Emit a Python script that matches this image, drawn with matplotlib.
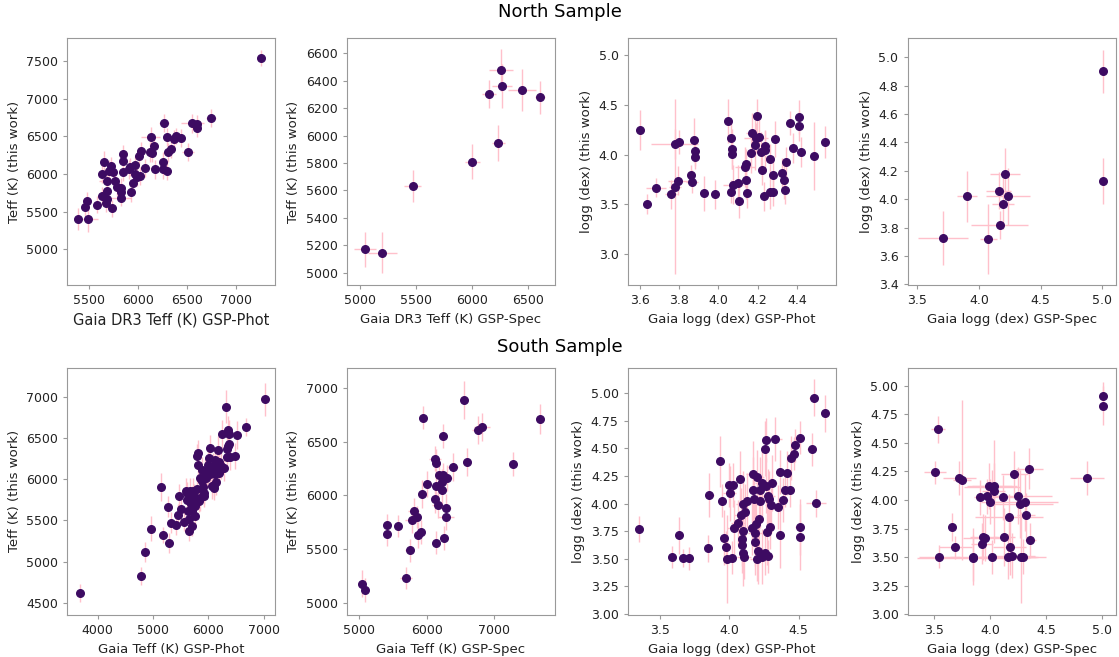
import numpy as np
import matplotlib
matplotlib.use("Agg")
import matplotlib.pyplot as plt

# North sample, Teff vs Gaia GSP-Phot
n_phot_teff_x = [7260, 6745, 6555, 6605, 6605, 6510, 6435, 6390, 6365, 6340, 6310, 6300, 6300, 6260, 6255, 6265,
                 6165, 6170, 6145, 6130, 6120, 6070, 6035, 6010, 6025, 5995, 5975, 5970, 5950, 5930, 5920, 5910,
                 5850, 5848, 5850, 5830, 5825, 5830, 5790, 5765, 5750, 5730, 5740, 5710, 5690, 5690, 5690, 5680,
                 5655, 5635, 5630, 5585, 5480, 5460, 5490, 5390]
n_phot_teff_y = [7535, 6745, 6670, 6660, 6605, 6295, 6480, 6505, 6465, 6330, 6285, 6485, 6045, 6060, 6155, 6670,
                 6370, 6060, 6275, 6495, 6295, 6075, 6310, 6240, 5975, 5965, 6000, 6120, 5885, 5755, 6090, 6060,
                 6260, 6175, 6030, 5820, 5765, 5685, 5830, 5910, 6030, 6105, 5545, 6045, 5905, 5775, 5665, 5610,
                 6155, 5995, 5710, 5595, 5640, 5565, 5405, 5405]
n_phot_teff_xerr = [40, 50, 120, 40, 40, 60, 40, 50, 40, 40, 40, 40, 40, 40, 40, 50, 40, 40, 40, 100, 40, 50, 40, 40,
                    50, 40, 40, 40, 40, 40, 40, 50, 40, 40, 40, 40, 40, 100, 40, 40, 40, 40, 40, 40, 90, 40, 40, 40,
                    40, 40, 40, 40, 40, 40, 100, 40]
n_phot_teff_yerr = [110, 120, 130, 120, 120, 120, 120, 110, 120, 120, 120, 120, 120, 120, 130, 120, 120, 120, 120,
                    130, 130, 120, 120, 120, 120, 120, 120, 120, 120, 130, 120, 120, 120, 120, 120, 130, 120, 110,
                    120, 120, 130, 120, 110, 140, 120, 120, 120, 110, 150, 120, 120, 110, 120, 120, 170, 150]

# North sample, Teff vs Gaia GSP-Spec
n_spec_teff_x = [6263, 6269, 6155, 6448, 6612, 6239, 6006, 5469, 5045, 5200]
n_spec_teff_y = [6478, 6362, 6303, 6332, 6279, 5948, 5810, 5634, 5170, 5146]
n_spec_teff_xerr = [105, 90, 60, 127, 45, 57, 66, 78, 96, 130]
n_spec_teff_yerr = [150, 160, 102, 155, 122, 130, 127, 117, 130, 148]

# North sample, logg vs Gaia GSP-Phot
n_phot_logg_x = [3.603, 3.640, 3.685, 3.761, 3.782, 3.778, 3.799, 3.795, 3.863, 3.867, 3.875, 3.880, 3.880, 3.926,
                 3.986, 4.050, 4.067, 4.071, 4.069, 4.067, 4.076, 4.100, 4.105, 4.135, 4.139, 4.139, 4.147, 4.164,
                 4.173, 4.185, 4.195, 4.193, 4.207, 4.215, 4.220, 4.232, 4.236, 4.239, 4.261, 4.263, 4.280, 4.280,
                 4.290, 4.326, 4.334, 4.338, 4.346, 4.363, 4.379, 4.409, 4.409, 4.419, 4.487, 4.544]
n_phot_logg_y = [4.25, 3.50, 3.67, 3.60, 3.68, 4.11, 4.13, 3.74, 3.80, 3.73, 4.15, 4.04, 3.98, 3.61, 3.60, 4.34,
                 4.17, 4.06, 4.01, 3.63, 3.70, 3.72, 3.53, 3.88, 3.91, 3.75, 3.61, 4.02, 4.22, 4.10, 4.39, 4.17,
                 4.18, 4.03, 3.85, 3.58, 4.05, 4.09, 3.63, 3.96, 3.63, 3.80, 4.16, 3.82, 3.75, 3.65, 3.93, 4.32,
                 4.07, 4.29, 4.38, 4.03, 3.99, 4.13]
n_phot_logg_xerr = [0.01, 0.02, 0.05, 0.03, 0.03, 0.12, 0.02, 0.05, 0.02, 0.03, 0.02, 0.02, 0.02, 0.02, 0.02, 0.02,
                    0.02, 0.02, 0.02, 0.02, 0.05, 0.02, 0.02, 0.05, 0.02, 0.02, 0.02, 0.02, 0.03, 0.02, 0.02, 0.06,
                    0.02, 0.02, 0.02, 0.02, 0.02, 0.02, 0.02, 0.02, 0.02, 0.02, 0.02, 0.02, 0.02, 0.02, 0.02, 0.02,
                    0.02, 0.02, 0.02, 0.02, 0.02, 0.02]
n_phot_logg_yerr = [0.20, 0.10, 0.10, 0.15, 0.88, 0.15, 0.12, 0.15, 0.10, 0.12, 0.22, 0.15, 0.12, 0.18, 0.15, 0.22,
                    0.18, 0.20, 0.15, 0.12, 0.20, 0.18, 0.17, 0.20, 0.15, 0.20, 0.15, 0.20, 0.20, 0.25, 0.17, 0.15,
                    0.18, 0.20, 0.15, 0.15, 0.20, 0.15, 0.18, 0.15, 0.15, 0.15, 0.18, 0.15, 0.20, 0.15, 0.15, 0.12,
                    0.15, 0.15, 0.17, 0.15, 0.34, 0.16]

# North sample, logg vs Gaia GSP-Spec
n_spec_logg_x = [5.005, 5.005, 3.707, 3.903, 4.077, 4.159, 4.167, 4.197, 4.213, 4.235]
n_spec_logg_y = [4.90, 4.13, 3.73, 4.02, 3.72, 4.06, 3.82, 3.97, 4.18, 4.02]
n_spec_logg_xerr = [0.01, 0.01, 0.205, 0.08, 0.07, 0.10, 0.23, 0.09, 0.12, 0.18]
n_spec_logg_yerr = [0.15, 0.16, 0.19, 0.18, 0.25, 0.13, 0.10, 0.18, 0.18, 0.20]

# South sample, Teff vs Gaia GSP-Phot
s_phot_teff_x = [3687, 4789, 4861, 4970, 5151, 5181, 5265, 5295, 5325, 5416, 5464, 5452, 5506, 5554, 5602, 5614,
                 5626, 5650, 5656, 5675, 5693, 5705, 5705, 5723, 5747, 5753, 5783, 5795, 5825, 5795, 5807, 5813,
                 5855, 5880, 5898, 5916, 5928, 5946, 5964, 5988, 5994, 6018, 6024, 6036, 6066, 6078, 6096, 6108,
                 6127, 6139, 6157, 6169, 6187, 6199, 6229, 6247, 6325, 6337, 6337, 6355, 6367, 6373, 6355, 6397,
                 6476, 6518, 6675, 7018, 5700, 5760, 5850, 5980, 6050, 6120, 6200, 5620, 5760, 6100, 6280, 5890]
s_phot_teff_y = [4614, 4819, 5114, 5400, 5912, 5322, 5666, 5228, 5474, 5441, 5793, 5564, 5637, 5486, 5862, 5748,
                 5617, 5371, 5523, 5862, 5699, 5609, 5433, 5862, 5789, 5670, 5768, 5883, 5740, 6280, 6325, 6178,
                 6014, 6116, 5912, 5801, 5834, 6088, 6014, 6169, 6088, 6259, 6382, 6067, 5916, 6161, 6108, 5932,
                 6239, 5965, 6161, 6353, 6079, 6210, 6161, 6546, 6885, 6374, 6272, 6599, 6435, 6546, 6407, 6272,
                 6284, 6538, 6640, 6975, 5780, 5720, 5770, 6050, 6130, 6060, 6100, 5830, 5550, 5900, 6140, 5980]
s_phot_teff_xerr = [40, 30, 30, 40, 40, 40, 40, 40, 50, 40, 40, 40, 40, 40, 40, 40, 40, 40, 40, 40, 40, 40, 40, 40,
                    40, 40, 40, 40, 40, 40, 40, 40, 40, 40, 40, 40, 40, 40, 40, 40, 40, 40, 40, 40, 40, 40, 40, 40,
                    40, 40, 40, 40, 40, 40, 40, 40, 40, 40, 40, 40, 40, 40, 40, 40, 40, 40, 40, 40, 40, 40, 40, 40,
                    40, 40, 40, 40, 40, 40, 40, 40]
s_phot_teff_yerr = [110, 110, 120, 150, 170, 100, 130, 120, 130, 120, 150, 130, 130, 120, 150, 140, 140, 120, 140,
                    150, 140, 130, 120, 150, 150, 140, 140, 150, 140, 150, 150, 150, 150, 150, 140, 140, 140, 160,
                    150, 160, 150, 160, 160, 150, 150, 160, 150, 140, 160, 150, 160, 170, 150, 160, 160, 170, 200,
                    170, 160, 170, 170, 170, 170, 160, 160, 170, 110, 200, 140, 140, 150, 150, 160, 150, 160, 140,
                    130, 150, 160, 150]

# South sample, Teff vs Gaia GSP-Spec
s_spec_teff_x = [5040, 5079, 5410, 5410, 5578, 5691, 5746, 5780, 5805, 5854, 5879, 5918, 5938, 5943, 6002, 6126,
                 6135, 6135, 6126, 6141, 6165, 6185, 6225, 6235, 6239, 6249, 6264, 6284, 6289, 6309, 6388, 6555,
                 6595, 6758, 6822, 7286, 7681]
s_spec_teff_y = [5175, 5119, 5721, 5636, 5715, 5229, 5486, 5771, 5856, 5799, 5630, 5658, 6012, 6724, 6107, 5965,
                 5558, 6085, 6342, 6304, 5912, 6185, 6050, 6122, 6552, 6185, 5599, 5799, 5884, 6163, 6263, 6890,
                 6310, 6608, 6639, 6291, 6708]
s_spec_teff_xerr = [40, 40, 40, 40, 40, 90, 60, 100, 80, 60, 60, 60, 50, 40, 50, 60, 50, 50, 90, 60, 80, 60, 60, 60,
                    60, 80, 50, 120, 70, 60, 80, 60, 50, 80, 120, 60, 40]
s_spec_teff_yerr = [125, 110, 100, 110, 100, 100, 110, 120, 120, 100, 120, 110, 130, 110, 120, 130, 110, 130, 120,
                    130, 120, 120, 130, 120, 110, 120, 110, 120, 130, 120, 130, 180, 130, 130, 130, 110, 140]

# South sample, logg vs Gaia GSP-Phot
s_phot_logg_x = [3.347, 3.585, 3.638, 3.662, 3.706, 3.844, 3.856, 3.931, 3.948, 3.960, 3.977, 3.979, 3.996, 4.001,
                 4.021, 4.025, 4.033, 4.064, 4.076, 4.081, 4.093, 4.093, 4.098, 4.100, 4.100, 4.105, 4.113, 4.125,
                 4.161, 4.171, 4.173, 4.178, 4.183, 4.183, 4.190, 4.197, 4.207, 4.214, 4.219, 4.202, 4.222, 4.234,
                 4.238, 4.255, 4.258, 4.263, 4.268, 4.275, 4.280, 4.282, 4.287, 4.294, 4.304, 4.311, 4.333, 4.352,
                 4.364, 4.367, 4.391, 4.415, 4.401, 4.439, 4.444, 4.469, 4.476, 4.512, 4.507, 4.512, 4.594, 4.609,
                 4.626, 4.691]
s_phot_logg_y = [3.767, 3.514, 3.712, 3.508, 3.502, 3.593, 4.080, 4.382, 4.026, 3.691, 3.605, 3.499, 4.169, 4.093,
                 3.508, 4.169, 3.782, 3.828, 4.224, 3.895, 3.681, 3.621, 3.995, 3.752, 3.554, 3.517, 3.925, 4.026,
                 3.782, 4.269, 4.126, 4.041, 3.736, 3.651, 3.812, 4.239, 3.569, 3.858, 4.123, 3.499, 4.026, 3.517,
                 4.187, 3.548, 4.498, 4.163, 4.574, 3.745, 4.065, 3.523, 4.041, 3.791, 3.986, 4.187, 4.589, 3.971,
                 3.712, 4.290, 4.032, 4.278, 4.123, 4.123, 4.412, 4.452, 4.528, 4.598, 3.788, 3.700, 4.491, 4.960,
                 4.001, 4.817]
s_phot_logg_xerr = [0.02, 0.02, 0.02, 0.02, 0.02, 0.02, 0.03, 0.02, 0.03, 0.02, 0.02, 0.02, 0.03, 0.05, 0.02, 0.03,
                    0.05, 0.05, 0.03, 0.05, 0.03, 0.03, 0.05, 0.03, 0.03, 0.05, 0.03, 0.05, 0.03, 0.05, 0.03, 0.03,
                    0.05, 0.03, 0.03, 0.05, 0.03, 0.03, 0.03, 0.05, 0.05, 0.03, 0.05, 0.03, 0.03, 0.03, 0.03, 0.03,
                    0.05, 0.03, 0.03, 0.03, 0.05, 0.03, 0.05, 0.03, 0.03, 0.03, 0.03, 0.03, 0.03, 0.03, 0.03, 0.03,
                    0.03, 0.03, 0.03, 0.03, 0.03, 0.03, 0.07, 0.02]
s_phot_logg_yerr = [0.12, 0.10, 0.17, 0.08, 0.10, 0.12, 0.20, 0.23, 0.15, 0.25, 0.15, 0.40, 0.20, 0.25, 0.15, 0.20,
                    0.25, 0.20, 0.25, 0.25, 0.25, 0.25, 0.30, 0.20, 0.30, 0.20, 0.25, 0.25, 0.25, 0.30, 0.30, 0.25,
                    0.30, 0.30, 0.25, 0.25, 0.30, 0.25, 0.30, 0.20, 0.25, 0.25, 0.30, 0.20, 0.25, 0.25, 0.20, 0.30,
                    0.25, 0.15, 0.25, 0.20, 0.25, 0.25, 0.20, 0.20, 0.30, 0.20, 0.20, 0.20, 0.15, 0.15, 0.20, 0.15,
                    0.15, 0.15, 0.25, 0.30, 0.15, 0.17, 0.12, 0.17]

# South sample, logg vs Gaia GSP-Spec
s_spec_logg_x = [3.536, 3.509, 3.548, 3.661, 3.691, 3.727, 3.748, 3.846, 3.846, 3.906, 3.926, 3.941, 3.959, 3.977,
                 3.995, 4.001, 4.019, 4.016, 4.031, 4.037, 4.114, 4.126, 4.159, 4.168, 4.174, 4.198, 4.216, 4.249,
                 4.263, 4.278, 4.296, 4.308, 4.317, 4.350, 4.359, 4.866, 5.006, 5.006]
s_spec_logg_y = [4.616, 4.243, 3.505, 3.765, 3.587, 4.193, 4.173, 3.505, 3.493, 4.022, 3.617, 3.676, 3.667, 4.031,
                 4.119, 3.986, 3.499, 4.110, 4.075, 4.119, 4.022, 3.676, 3.505, 3.848, 3.593, 3.514, 4.229, 4.037,
                 3.966, 3.499, 3.505, 3.978, 3.865, 4.273, 3.647, 4.193, 4.908, 4.823]
s_spec_logg_xerr = [0.06, 0.10, 0.18, 0.03, 0.15, 0.15, 0.08, 0.20, 0.50, 0.05, 0.10, 0.12, 0.20, 0.10, 0.20, 0.08,
                    0.15, 0.25, 0.10, 0.20, 0.10, 0.10, 0.25, 0.30, 0.15, 0.20, 0.12, 0.30, 0.30, 0.15, 0.20, 0.30,
                    0.08, 0.12, 0.05, 0.15, 0.01, 0.01]
s_spec_logg_yerr = [0.12, 0.10, 0.10, 0.12, 0.10, 0.15, 0.70, 0.25, 0.20, 0.15, 0.18, 0.20, 0.20, 0.15, 0.20, 0.20,
                    0.15, 0.15, 0.45, 0.20, 0.20, 0.25, 0.20, 0.20, 0.25, 0.20, 0.20, 0.25, 0.30, 0.40, 0.15, 0.25,
                    0.20, 0.18, 0.15, 0.15, 0.12, 0.17]

# axis labels, limits and ticks, one entry per panel
panel_xlabels = ["Gaia DR3 Teff (K) GSP-Phot", "Gaia DR3 Teff (K) GSP-Spec", "Gaia logg (dex) GSP-Phot",
                 "Gaia logg (dex) GSP-Spec", "Gaia Teff (K) GSP-Phot", "Gaia Teff (K) GSP-Spec",
                 "Gaia logg (dex) GSP-Phot", "Gaia logg (dex) GSP-Spec"]
panel_ylabels = ["Teff (K) (this work)", "Teff (K) (this work)", "logg (dex) (this work)", "logg (dex) (this work)"] * 2
panel_xlims = [(5279, 7401), (4881, 6746), (3.54, 4.598), (3.42, 5.11),
               (3446, 7211), (4817, 7904), (3.265, 4.77), (3.264, 5.12)]
panel_ylims = [(4527, 7801), (4910, 6710), (2.69, 5.17), (3.395, 5.135),
               (4350, 7355), (4884, 7188), (2.99, 5.23), (2.995, 5.154)]
panel_xticks = [[5500, 6000, 6500, 7000], [5000, 5500, 6000, 6500], [3.6, 3.8, 4.0, 4.2, 4.4], [3.5, 4.0, 4.5, 5.0],
                [4000, 5000, 6000, 7000], [5000, 6000, 7000], [3.5, 4.0, 4.5], [3.5, 4.0, 4.5, 5.0]]
panel_yticks = [[5000, 5500, 6000, 6500, 7000, 7500],
                [5000, 5200, 5400, 5600, 5800, 6000, 6200, 6400, 6600],
                [3.0, 3.5, 4.0, 4.5, 5.0],
                [3.4, 3.6, 3.8, 4.0, 4.2, 4.4, 4.6, 4.8, 5.0],
                [4500, 5000, 5500, 6000, 6500, 7000],
                [5000, 5500, 6000, 6500, 7000],
                [3.0, 3.25, 3.5, 3.75, 4.0, 4.25, 4.5, 4.75, 5.0],
                [3.0, 3.25, 3.5, 3.75, 4.0, 4.25, 4.5, 4.75, 5.0]]

panels = [
    (n_phot_teff_x, n_phot_teff_y, n_phot_teff_xerr, n_phot_teff_yerr),
    (n_spec_teff_x, n_spec_teff_y, n_spec_teff_xerr, n_spec_teff_yerr),
    (n_phot_logg_x, n_phot_logg_y, n_phot_logg_xerr, n_phot_logg_yerr),
    (n_spec_logg_x, n_spec_logg_y, n_spec_logg_xerr, n_spec_logg_yerr),
    (s_phot_teff_x, s_phot_teff_y, s_phot_teff_xerr, s_phot_teff_yerr),
    (s_spec_teff_x, s_spec_teff_y, s_spec_teff_xerr, s_spec_teff_yerr),
    (s_phot_logg_x, s_phot_logg_y, s_phot_logg_xerr, s_phot_logg_yerr),
    (s_spec_logg_x, s_spec_logg_y, s_spec_logg_xerr, s_spec_logg_yerr),
]

fig = plt.figure(figsize=(11.19, 6.57), dpi=100)

lefts = [0.060, 0.310, 0.561, 0.811]
bottoms = [0.566, 0.064]
width, height = 0.186, 0.376

for i, (x, y, xerr, yerr) in enumerate(panels):
    row, col = divmod(i, 4)
    ax = fig.add_axes([lefts[col], bottoms[row], width, height])
    ax.errorbar(x, y, xerr=xerr, yerr=yerr, fmt="none", ecolor="pink", elinewidth=1, zorder=1)
    ax.scatter(x, y, s=30, color="#3d0b62", zorder=2)
    ax.set_xticks(panel_xticks[i])
    ax.set_yticks(panel_yticks[i])
    ax.set_xlim(*panel_xlims[i])
    ax.set_ylim(*panel_ylims[i])
    # first panel has a slightly bigger x label in the reference
    ax.set_xlabel(panel_xlabels[i], fontsize=10.5 if i == 0 else 9.5, color="#222222")
    ax.set_ylabel(panel_ylabels[i], fontsize=9.5, color="#222222")
    ax.tick_params(labelsize=9, colors="#222222", length=3, color="#999999")
    for s in ax.spines.values():
        s.set_color("#999999")

fig.text(0.5, 1 - 12 / 657, "North Sample", ha="center", va="center", fontsize=13)
fig.text(0.5, 1 - 347 / 657, "South Sample", ha="center", va="center", fontsize=13)

fig.savefig("out.png", dpi=100)
